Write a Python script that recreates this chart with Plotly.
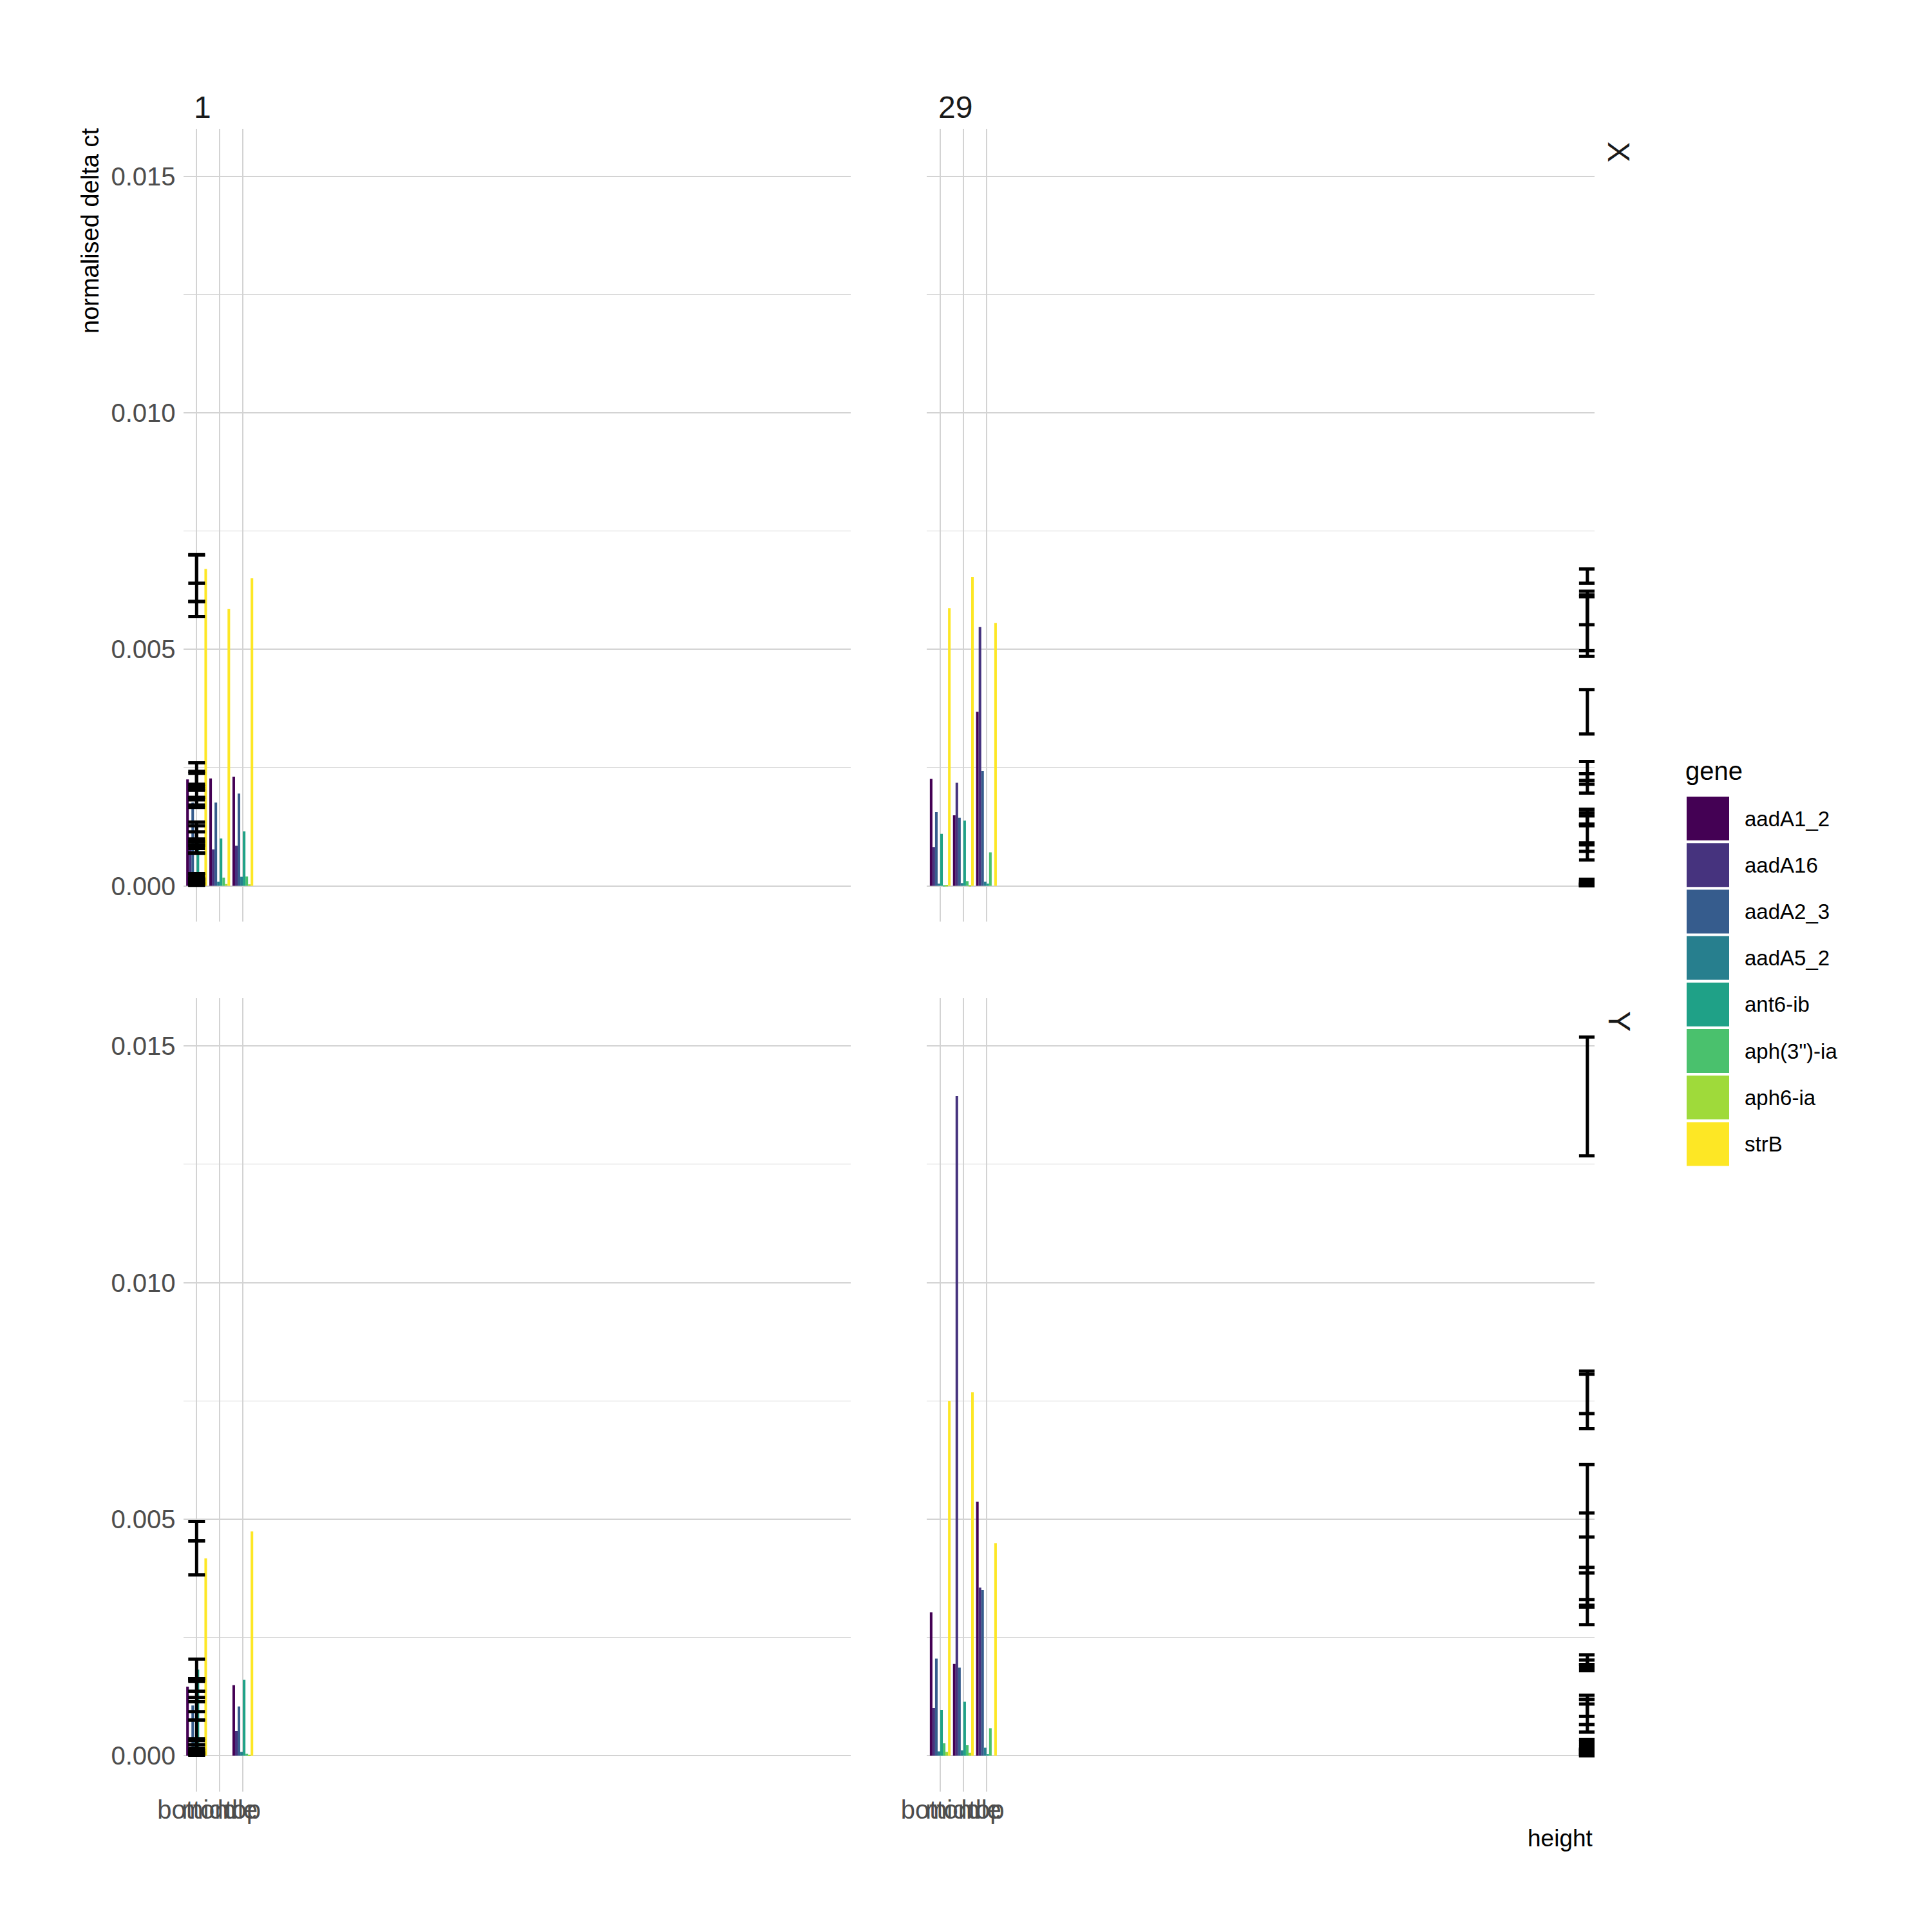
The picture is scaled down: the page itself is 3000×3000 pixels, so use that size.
import plotly.graph_objects as go

# ---------------- data ----------------
genes = ["aadA1_2", "aadA16", "aadA2_3", "aadA5_2", "ant6-ib", 'aph(3")-ia', "aph6-ia", "strB"]
gene_colors = ["#440154", "#46337E", "#365C8D", "#277F8E", "#1FA187", "#4AC16D", "#9FDA3A", "#FDE725"]
heights = ["bottom", "middle", "top"]
height_pos = [1, 2, 3]
days = ["1", "29"]
day_pos = [1, 29]
rows = ["X", "Y"]

# bar values (order of genes) per facet day / row / height
d1_X_bottom = [0.00225, 0.00080, 0.00176, 0.00010, 0.00102, 0.00013, 0.00005, 0.00670]
d1_X_middle = [0.00227, 0.00077, 0.00176, 0.00009, 0.00100, 0.000175, 0.00004, 0.00585]
d1_X_top = [0.00231, 0.00085, 0.00195, 0.00019, 0.00115, 0.00020, 0.00003, 0.00650]

d29_X_bottom = [0.00226, 0.00082, 0.00156, 0.00005, 0.00110, 0.00001, 0.00002, 0.00587]
d29_X_middle = [0.00149, 0.00218, 0.00144, 0.00006, 0.00138, 0.00010, 0.00001, 0.00653]
d29_X_top = [0.00368, 0.00547, 0.00243, 0.00009, 0.00005, 0.00071, 0.00000, 0.00556]

d1_Y_bottom = [0.00146, 0.00018, 0.00106, 0.00030, 0.00182, 0.00010, 0.00004, 0.00417]
d1_Y_middle = [None, None, None, None, None, None, None, None]
d1_Y_top = [0.00149, 0.00052, 0.00104, 0.00008, 0.00160, 0.00004, 0.00002, 0.00474]

d29_Y_bottom = [0.00303, 0.00101, 0.00205, 0.00009, 0.00097, 0.00026, 0.00008, 0.00750]
d29_Y_middle = [0.00194, 0.01394, 0.00186, 0.00011, 0.00114, 0.00022, 0.00006, 0.00768]
d29_Y_top = [0.00537, 0.00355, 0.00350, 0.00017, 0.00003, 0.00058, 0.00000, 0.00449]

# error bar limits (gene-major, heights bottom/middle/top)
e1_X_lo = [0.00210, 0.00215, 0.00202, 0.00069, 0.00069, 0.00070, 0.00166, 0.00171, 0.00187,
           0.00005, 0.00004, 0.00012, 0.00079, 0.00086, 0.00093, 0.00008, 0.00012, 0.00014,
           0.00002, 0.00002, 0.00001, 0.00640, 0.00569, 0.00601]
e1_X_hi = [0.00242, 0.00238, 0.00260, 0.00093, 0.00086, 0.00099, 0.00187, 0.00182, 0.00205,
           0.00015, 0.00014, 0.00026, 0.00127, 0.00114, 0.00135, 0.00018, 0.00023, 0.00026,
           0.00008, 0.00006, 0.00005, 0.00700, 0.00601, 0.00699]

e29_X_lo = [0.00215, 0.00130, 0.00321, 0.00073, 0.00196, 0.00485, 0.00148, 0.00130, 0.00223,
            0.00002, 0.00003, 0.00005, 0.00087, 0.00127, 0.00002, 0.00000, 0.00006, 0.00055,
            0.00000, 0.00000, 0.00000, 0.00552, 0.00640, 0.00497]
e29_X_hi = [0.00237, 0.00162, 0.00415, 0.00091, 0.00237, 0.00611, 0.00162, 0.00155, 0.00263,
            0.00008, 0.00009, 0.00013, 0.00130, 0.00148, 0.00008, 0.00002, 0.00014, 0.00087,
            0.00004, 0.00002, 0.00001, 0.00623, 0.00670, 0.00615]

e1_Y_lo = [0.00123, None, 0.00136, 0.00010, None, 0.00032, 0.00093, None, 0.00075,
           0.00023, None, 0.00004, 0.00159, None, 0.00157, 0.00005, None, 0.00002,
           0.00002, None, 0.00001, 0.00382, None, 0.00454]
e1_Y_hi = [0.00163, None, 0.00163, 0.00023, None, 0.00075, 0.00114, None, 0.00136,
           0.00036, None, 0.00012, 0.00204, None, 0.00163, 0.00015, None, 0.00006,
           0.00006, None, 0.00003, 0.00454, None, 0.00495]

e29_Y_lo = [0.00277, 0.00186, 0.00462, 0.00083, 0.01268, 0.00318, 0.00193, 0.00180, 0.00314,
            0.00005, 0.00007, 0.00010, 0.00066, 0.00109, 0.00000, 0.00018, 0.00014, 0.00050,
            0.00004, 0.00002, 0.00000, 0.00691, 0.00723, 0.00386]
e29_Y_hi = [0.00330, 0.00202, 0.00615, 0.00119, 0.01519, 0.00398, 0.00213, 0.00193, 0.00386,
            0.00013, 0.00015, 0.00024, 0.00128, 0.00119, 0.00006, 0.00034, 0.00030, 0.00066,
            0.00012, 0.00010, 0.00001, 0.00806, 0.00813, 0.00513]

y_ticks = [0.0, 0.005, 0.010, 0.015]
y_tick_text = ["0.000", "0.005", "0.010", "0.015"]
y_minor = [0.0025, 0.0075, 0.0125]

# ---------------- layout geometry (pixels on a 3000 x 3000 page) ----------------
W = H = 3000.0
FONT = "Liberation Sans, Arial, sans-serif"
GRID = "#D3D3D3"


def px(x):
    return x / W


def py(y):
    return 1 - y / H


col_dom = [[px(284.6), px(1321.3)], [px(1439.3), px(2476.0)]]
row_dom = [[py(1431.4), py(199.5)], [py(2782.0), py(1550.0)]]
x_range = [0.423, 29.31]
y_range = [-0.00076, 0.01601]

panels = [
    dict(r=0, c=0, vals=[d1_X_bottom, d1_X_middle, d1_X_top], lo=e1_X_lo, hi=e1_X_hi),
    dict(r=0, c=1, vals=[d29_X_bottom, d29_X_middle, d29_X_top], lo=e29_X_lo, hi=e29_X_hi),
    dict(r=1, c=0, vals=[d1_Y_bottom, d1_Y_middle, d1_Y_top], lo=e1_Y_lo, hi=e1_Y_hi),
    dict(r=1, c=1, vals=[d29_Y_bottom, d29_Y_middle, d29_Y_top], lo=e29_Y_lo, hi=e29_Y_hi),
]

fig = go.Figure()
layout = {}
for i, p in enumerate(panels):
    n = i + 1
    xa = "x" if n == 1 else f"x{n}"
    ya = "y" if n == 1 else f"y{n}"
    for gi, g in enumerate(genes):
        fig.add_trace(go.Bar(
            x=height_pos, y=[p["vals"][h][gi] for h in range(3)],
            name=g, marker=dict(color=gene_colors[gi], line=dict(width=0)),
            xaxis=xa, yaxis=ya, showlegend=False))
    lo, hi = p["lo"], p["hi"]
    ys, up, dn, xs = [], [], [], []
    for a, b in zip(lo, hi):
        if a is None:
            continue
        m = (a + b) / 2
        ys.append(m); up.append(b - m); dn.append(m - a); xs.append(day_pos[p["c"]])
    fig.add_trace(go.Scatter(
        x=xs, y=ys, mode="markers", marker=dict(color="rgba(0,0,0,0)", size=2),
        error_y=dict(type="data", symmetric=False, array=up, arrayminus=dn,
                     color="black", thickness=5, width=13),
        xaxis=xa, yaxis=ya, showlegend=False, hoverinfo="skip"))

    xkey = "xaxis" if n == 1 else f"xaxis{n}"
    ykey = "yaxis" if n == 1 else f"yaxis{n}"
    layout[xkey] = dict(
        domain=col_dom[p["c"]], anchor=ya, range=x_range, tickmode="array",
        tickvals=height_pos, ticktext=heights, showticklabels=(p["r"] == 1),
        tickangle=0, ticks="", ticklabelstandoff=1, showgrid=True, gridcolor=GRID,
        gridwidth=2.2, zeroline=False, showline=False, automargin=False,
        tickfont=dict(family=FONT, size=40, color="#4D4D4D"))
    layout[ykey] = dict(
        domain=row_dom[p["r"]], anchor=xa, range=y_range, tickmode="array",
        tickvals=y_ticks, ticktext=y_tick_text, showticklabels=(p["c"] == 0),
        ticks="", ticklabelstandoff=11, showgrid=True, gridcolor=GRID, gridwidth=2.2,
        zeroline=False, showline=False, automargin=False,
        minor=dict(tickvals=y_minor, showgrid=True, gridcolor=GRID, gridwidth=1.4, ticks=""),
        tickfont=dict(family=FONT, size=40, color="#4D4D4D"))

annotations = []
# facet strip labels (columns)
for c, lab in enumerate(days):
    annotations.append(dict(text=lab, x=px([299, 1455][c]), y=py(166), xref="paper", yref="paper",
                            xanchor="left", yanchor="middle", showarrow=False,
                            font=dict(family=FONT, size=48, color="#1A1A1A")))
# facet strip labels (rows)
for r, lab in enumerate(rows):
    annotations.append(dict(text=lab, x=px(2514), y=py([236, 1586][r]), xref="paper", yref="paper",
                            xanchor="center", yanchor="middle", textangle=90, showarrow=False,
                            font=dict(family=FONT, size=48, color="#1A1A1A")))
# axis titles
annotations.append(dict(text="normalised delta ct", x=px(140), y=py(359), xref="paper", yref="paper",
                        xanchor="center", yanchor="middle", textangle=-90, showarrow=False,
                        font=dict(family=FONT, size=38, color="black")))
annotations.append(dict(text="height", x=px(2476), y=py(2854), xref="paper", yref="paper",
                        xanchor="right", yanchor="middle", showarrow=False,
                        font=dict(family=FONT, size=37, color="black")))
# legend (drawn from the gene list)
annotations.append(dict(text="gene", x=px(2615), y=py(1197), xref="paper", yref="paper",
                        xanchor="left", yanchor="middle", showarrow=False,
                        font=dict(family=FONT, size=40, color="black")))
shapes = []
for gi, g in enumerate(genes):
    top = 1237 + gi * 72.2
    shapes.append(dict(type="rect", xref="paper", yref="paper", x0=px(2619), x1=px(2685),
                       y0=py(top + 68), y1=py(top), fillcolor=gene_colors[gi], line=dict(width=0)))
    annotations.append(dict(text=g, x=px(2707), y=py(top + 34), xref="paper", yref="paper",
                            xanchor="left", yanchor="middle", showarrow=False,
                            font=dict(family=FONT, size=33, color="black")))

fig.update_layout(
    width=3000, height=3000, margin=dict(l=0, r=0, t=0, b=0, autoexpand=False),
    paper_bgcolor="white", plot_bgcolor="white",
    barmode="group", bargap=0.1, bargroupgap=0.0,
    showlegend=False, annotations=annotations, shapes=shapes,
    font=dict(family=FONT), **layout)

fig.write_html("out.html")
